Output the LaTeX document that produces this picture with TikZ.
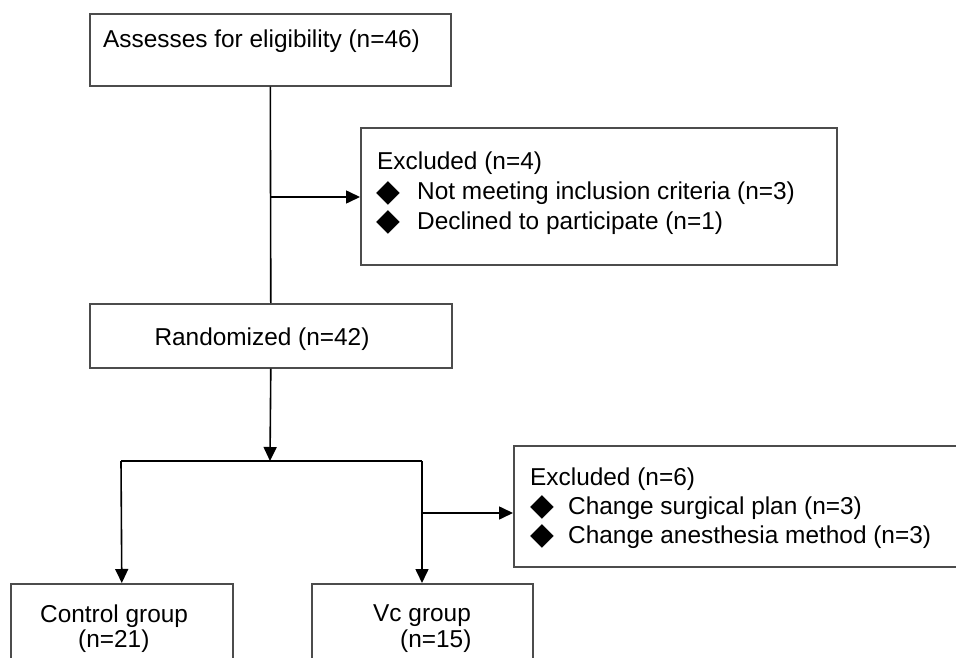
\documentclass[tikz,border=0pt]{standalone}
\usepackage{fontspec}
\setmainfont{Liberation Sans}
\newfontfamily\symfont{DejaVu Sans}
\usetikzlibrary{arrows.meta}
\begin{document}
\begin{tikzpicture}[x=1pt,y=-1pt,
  box/.style={draw=black!70,line width=1.6pt,rectangle,inner sep=0pt,anchor=north west},
  txt/.style={inner sep=0pt,anchor=base west,font=\fontsize{24.4}{29}\selectfont},
  dia/.style={inner sep=0pt,anchor=base,font=\symfont\fontsize{31}{29}\selectfont},
  conn/.style={draw=black,line width=1.6pt},
  arr/.style={conn,-{Triangle[length=14pt,width=13pt]}}]
\useasboundingbox (0,0) rectangle (956,658);
\clip (0,0) rectangle (956,658);
% boxes
\node[box,minimum width=361pt,minimum height=72pt] (assess) at (89,13) {};
\node[box,minimum width=476pt,minimum height=137pt] (excl1) at (360,127) {};
\node[box,minimum width=362pt,minimum height=64pt] (rand) at (89,303) {};
\node[box,minimum width=480pt,minimum height=121pt] (excl2) at (513,445) {};
\node[box,minimum width=222pt,minimum height=100pt] (ctrl) at (10,583) {};
\node[box,minimum width=221pt,minimum height=100pt] (vc) at (311,583) {};
% texts
\node[txt] (assessT) at (103,48) {Assesses for eligibility (n=46)};
\node[txt] (excl1T) at (377,170) {Excluded (n=4)};
\node[dia] (d1a) at (388,201) {◆};
\node[txt] (excl1a) at (417,200) {Not meeting inclusion criteria (n=3)};
\node[dia] (d1b) at (388,230) {◆};
\node[txt] (excl1b) at (417,229) {Declined to participate (n=1)};
\node[txt,anchor=base] (randT) at (262,345) {Randomized (n=42)};
\node[txt] (excl2T) at (530,485) {Excluded (n=6)};
\node[dia] (d2a) at (542,515) {◆};
\node[txt] (excl2a) at (568,514) {Change surgical plan (n=3)};
\node[dia] (d2b) at (542,544) {◆};
\node[txt] (excl2b) at (568,543) {Change anesthesia method (n=3)};
\node[txt] (ctrlT) at (40,622) {Control group};
\node[txt] (ctrlN) at (78,647) {(n=21)};
\node[txt] (vcT) at (373,621) {Vc group};
\node[txt] (vcN) at (400,647) {(n=15)};
% connectors
\coordinate (j1) at (270,197);
\coordinate (split) at (270,461);
\coordinate (sl) at (121,461);
\coordinate (sr) at (422,461);
\coordinate (j2) at (422,513);
\draw[conn] (assess.south) -- (rand.north);
\draw[arr] (j1) -- (j1 -| excl1.west);
\draw[arr] (rand.south) -- (split);
\draw[conn] (sl) -- (sr);
\draw[arr] (sl) -- (ctrl.north);
\draw[arr] (sr) -- (sr |- vc.north);
\draw[arr] (j2) -- (j2 -| excl2.west);
\end{tikzpicture}
\end{document}
